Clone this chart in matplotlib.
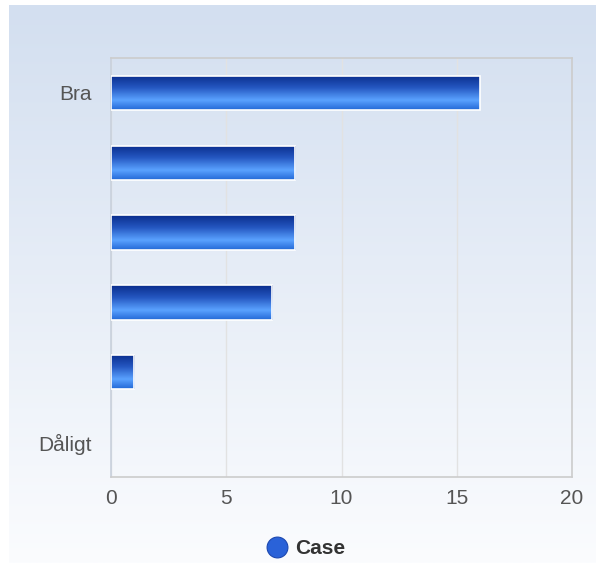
import numpy as np
import matplotlib
matplotlib.use("Agg")
import matplotlib.pyplot as plt
from matplotlib.colors import LinearSegmentedColormap
from matplotlib.lines import Line2D

categories = ["Bra", "", "", "", "", "Dåligt"]
values = [16, 8, 8, 7, 1, 0]
series_name = "Case"
xticks = [0, 5, 10, 15, 20]

plt.rcParams['font.family'] = ['Liberation Sans', 'DejaVu Sans']

W, H = 596, 563
fig = plt.figure(figsize=(W / 100, H / 100), dpi=100)
fig.patch.set_facecolor('white')

# background gradient
bg = fig.add_axes([9 / W, 0, 1 - 9 / W, (H - 5) / H], zorder=-10)
bg_cmap = LinearSegmentedColormap.from_list('bg', ['#d3dff0', '#fbfcfe'])
bg.imshow(np.linspace(0, 1, 256).reshape(-1, 1), cmap=bg_cmap, aspect='auto',
          extent=(0, 1, 0, 1), origin='upper')
bg.set_axis_off()

# plot area
left, right, top, bottom = 111, 572, 58, 477
ax = fig.add_axes([left / W, 1 - bottom / H, (right - left) / W, (bottom - top) / H])
ax.patch.set_alpha(0)

y = np.arange(len(categories))
bars = ax.barh(y, values, height=0.49, color='#2a6ad8', edgecolor='white', linewidth=1.2, zorder=3)

bar_cmap = LinearSegmentedColormap.from_list(
    'bar', [(0, '#0a2d8c'), (0.35, '#2456c0'), (0.72, '#5aa2ff'), (1.0, '#2368d6')])
grad = np.linspace(0, 1, 128).reshape(-1, 1)
for b in bars:
    x0, yb, w, h = b.get_x(), b.get_y(), b.get_width(), b.get_height()
    if w <= 0:
        b.set_visible(False)
        continue
    im = ax.imshow(grad, cmap=bar_cmap, aspect='auto', origin='upper',
                   extent=(x0, x0 + w, yb + h, yb), zorder=3.5, interpolation='bilinear')
    im.set_clip_path(b)
    b.set_facecolor('none')
    b.set_zorder(4)

ax.set_xlim(0, 20)
ax.set_ylim(len(categories) - 0.5, -0.5)
ax.set_yticks(y)
ax.set_yticklabels(categories)
ax.set_xticks(xticks)
ax.tick_params(axis='both', length=0, labelsize=15, labelcolor='#555555')
ax.tick_params(axis='y', pad=14)
ax.tick_params(axis='x', pad=9)
ax.grid(axis='x', color='#e2e2e2', linewidth=1, zorder=0)
ax.set_axisbelow(True)
for s in ['top', 'right', 'bottom']:
    ax.spines[s].set_color('#cccccc')
ax.spines['left'].set_color('#c8d0dc')
for s in ax.spines.values():
    s.set_linewidth(1.2)

# legend
handle = Line2D([], [], marker='o', linestyle='none', markersize=15,
                markerfacecolor='#2a62d8', markeredgecolor='#1c48b0', markeredgewidth=0.8)
leg = fig.legend([handle], [series_name], loc='center', bbox_to_anchor=(305 / W, 1 - 549 / H),
                 frameon=False, handletextpad=0.3, handlelength=1.2,
                 prop={'weight': 'bold', 'size': 15})
for t in leg.get_texts():
    t.set_color('#333333')

fig.savefig('out.png', dpi=100, facecolor=fig.get_facecolor())
